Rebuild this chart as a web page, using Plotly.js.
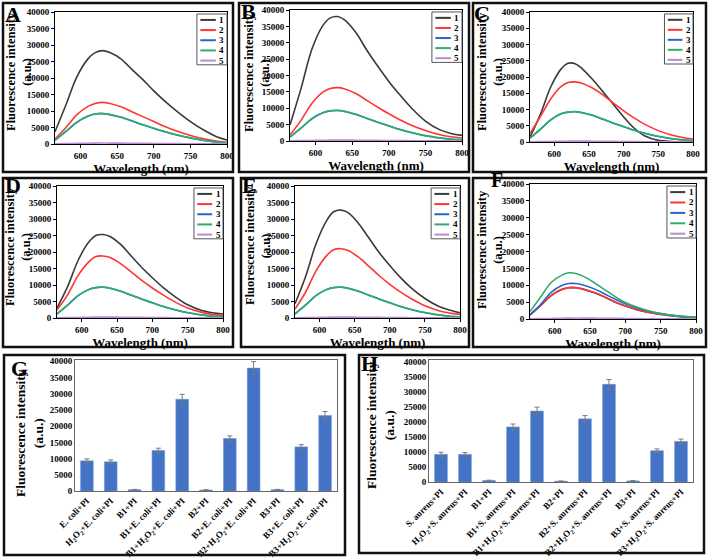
<!DOCTYPE html>
<html><head><meta charset="utf-8">
<script src="https://cdn.plot.ly/plotly-3.0.1.min.js"></script>
<style>html,body{margin:0;padding:0;background:#fff}#chart{width:709px;height:560px}</style>
</head><body><div id="chart"></div>
<script>
// ---------- spectra data (wavelength, nm) ----------
const wavelength = [565,580,595,610,620,630,640,655,670,685,700,715,730,750,770,785,800];
const seriesNames = ['1','2','3','4','5'];

const A1 = [3700,11900,20400,25800,27700,28300,27700,25800,22600,19500,16100,13000,10200,6800,4000,2300,1200];
const A2 = [1500,5000,8900,11400,12300,12600,12300,11300,9800,8300,6800,5300,4000,2600,1500,900,500];
const A3 = [1100,3800,6600,8400,9100,9200,8900,8100,7000,5800,4700,3700,2800,1800,1000,600,300];
const A4 = [1150,3850,6650,8450,9150,9250,8950,8150,7050,5850,4750,3750,2850,1850,1050,650,350];
const A5 = [60,110,180,240,270,290,280,260,230,200,160,130,100,70,50,40,30];

const B1 = [4900,16000,28100,35300,37600,38000,36900,33100,27700,22800,18200,14100,10300,6100,3400,2300,1700];
const B2 = [1800,6300,11500,14900,16000,16300,15900,14500,12400,10300,8300,6500,4900,3200,1900,1300,900];
const B3 = [1200,3900,6800,8600,9200,9300,9000,8100,6900,5700,4600,3500,2600,1600,900,500,300];
const B4 = [1250,3950,6850,8650,9250,9350,9050,8150,6950,5750,4650,3550,2650,1650,950,550,350];
const B5 = [50,100,170,230,260,280,270,250,220,190,150,120,90,60,40,30,20];

const C1 = [1500,8500,17000,22500,24200,24100,22600,19300,15500,11600,7700,4300,1900,500,150,60,20];
const C2 = [2600,7800,13300,17100,18300,18500,18100,16600,14500,12000,9600,7400,5500,3500,2100,1400,900];
const C3 = [1200,3900,6800,8700,9200,9300,9000,8200,7000,5800,4700,3600,2700,1700,1000,600,400];
const C4 = [1250,3950,6850,8750,9250,9350,9050,8250,7050,5850,4750,3650,2750,1750,1050,650,450];
const C5 = [50,100,170,230,260,280,270,250,220,190,150,120,90,60,40,30,20];

const D1 = [3000,9500,17500,23000,25000,25300,24700,22300,18800,15300,12200,9300,6800,4000,2300,1600,1200];
const D2 = [2400,7000,12900,17000,18600,18800,18300,16500,14000,11400,9100,7000,5100,3000,1700,1100,700];
const D3 = [1200,3900,6800,8600,9200,9300,9000,8100,6900,5700,4600,3500,2600,1600,900,500,300];
const D4 = [1250,3950,6850,8650,9250,9350,9050,8150,6950,5750,4650,3550,2650,1650,950,550,350];
const D5 = [50,100,170,230,260,280,270,250,220,190,150,120,90,60,40,30,20];

const E1 = [4300,12500,22500,29500,32200,32700,32000,28800,24300,19800,15900,12300,9200,5900,3500,2400,1600];
const E2 = [2700,7800,14300,18900,20700,21000,20500,18500,15700,12800,10200,7900,5900,3700,2200,1500,1100];
const E3 = [1200,3900,6800,8600,9200,9300,9000,8100,6900,5700,4600,3500,2600,1600,900,500,300];
const E4 = [1250,3950,6850,8650,9250,9350,9050,8150,6950,5750,4650,3550,2650,1650,950,550,350];
const E5 = [50,100,170,230,260,280,270,250,220,190,150,120,90,60,40,30,20];

const F1 = [1150,3950,6950,8750,9250,9250,8850,7850,6550,5050,3850,2850,2050,1350,850,550,350];
const F2 = [1200,4000,7000,8800,9300,9300,8900,7900,6600,5100,3900,2900,2100,1400,900,600,400];
const F3 = [1300,4300,7900,9900,10500,10500,10100,9000,7500,5900,4500,3400,2500,1600,1000,700,500];
const F4 = [2200,6500,10800,13000,13700,13500,12700,10900,8800,6700,4900,3600,2600,1600,1000,700,500];
const F5 = [50,100,170,230,260,280,270,250,220,190,150,120,90,60,40,30,20];

// ---------- bar data ----------
const gCategories = ['E. coli+PI','H<sub>2</sub>O<sub>2</sub>+E. coli+PI','B1+PI','B1+E. coli+PI','B1+H<sub>2</sub>O<sub>2</sub>+E. coli+PI','B2+PI','B2+E. coli+PI','B2+H<sub>2</sub>O<sub>2</sub>+E. coli+PI','B3+PI','B3+E. coli+PI','B3+H<sub>2</sub>O<sub>2</sub>+E. coli+PI'];
const gValues = [9300,9000,400,12500,28300,300,16200,37900,400,13600,23300];
const gErrors = [600,600,100,700,1500,100,800,2000,100,700,1200];

const hCategories = ['S. aureus+PI','H<sub>2</sub>O<sub>2</sub>+S. aureus+PI','B1+PI','B1+S. aureus+PI','B1+H<sub>2</sub>O<sub>2</sub>+S. aureus+PI','B2+PI','B2+S. aureus+PI','B2+H<sub>2</sub>O<sub>2</sub>+S. aureus+PI','B3+PI','B3+S. aureus+PI','B3+H<sub>2</sub>O<sub>2</sub>+S. aureus+PI'];
const hValues = [9200,9200,500,18300,23600,250,21000,32500,350,10400,13500];
const hErrors = [700,600,100,1000,1300,100,1100,1600,100,600,800];

const yTitle = 'Fluorescence intensity<br>(a.u.)';
const yTitleE = 'Fluorescence intensity<br>(a.u)';
const xTitle = 'Wavelength (nm)';

// ---------- styling ----------
const W = 709, H = 560;
const SERIF = '"Liberation Serif", "Times New Roman", serif';
const spectraColors = ['#3a3a3a','#ff3434','#2466cc','#2cae6c','#b88ad6'];
const px = p => p / W;
const py = p => 1 - p / H;

const panels = [
  {label:'A', n:'',  series:[A1,A2,A3,A4,A5], xd:[55,227], yd:[12,144], box:[3,3,233,172], lab:[13,14], yt:[19,72], ytxt:yTitle},
  {label:'B', n:'2', series:[B1,B2,B3,B4,B5], xd:[290,462], yd:[10,141], box:[239,3,469,172], lab:[248,11], yt:[257,73], ytxt:yTitle},
  {label:'C', n:'3', series:[C1,C2,C3,C4,C5], xd:[530,693], yd:[12,142], box:[473,3,706,172], lab:[482,13], yt:[490,72], ytxt:yTitle},
  {label:'D', n:'4', series:[D1,D2,D3,D4,D5], xd:[57,223], yd:[186,318], box:[3,178,233,347], lab:[13,186], yt:[18,247], ytxt:yTitle},
  {label:'E', n:'5', series:[E1,E2,E3,E4,E5], xd:[295,460], yd:[186,318], box:[241,178,469,347], lab:[249,186], yt:[258,246], ytxt:yTitleE},
  {label:'F', n:'6', series:[F1,F2,F3,F4,F5], xd:[530,696], yd:[184,319], box:[473,178,706,347], lab:[497,180], yt:[490,250], ytxt:yTitle}
];

const data = [];
const layout = {
  width: W, height: H,
  margin: {l:0, r:0, t:0, b:0},
  paper_bgcolor: '#fff', plot_bgcolor: '#fff',
  showlegend: false,
  bargap: 0.47,
  font: {family: SERIF, color: '#000'},
  shapes: [], annotations: []
};

const tickFont = {family: SERIF, size: 9, weight: 'bold', color: '#000'};
const titleFont = {family: SERIF, size: 13, weight: 'bold', color: '#000'};

panels.forEach(p => {
  const xk = 'xaxis' + p.n, yk = 'yaxis' + p.n;
  const xr = 'x' + p.n, yr = 'y' + p.n;
  p.series.forEach((s, i) => {
    data.push({type:'scatter', mode:'lines', x: wavelength, y: s, xaxis: xr, yaxis: yr,
      name: seriesNames[i], line: {color: spectraColors[i], width: 1.6, shape: 'spline', smoothing: 1},
      hoverinfo: 'skip'});
  });
  layout[xk] = {domain:[px(p.xd[0]), px(p.xd[1])], anchor: yr, range:[565, 800],
    tickvals:[600,650,700,750,800], ticks:'outside', ticklen:3, tickcolor:'#000',
    tickfont: tickFont, showline:true, mirror:true, linecolor:'#000', linewidth:1,
    showgrid:false, zeroline:false,
    title:{text: xTitle, font: titleFont, standoff: 0}};
  layout[yk] = {domain:[py(p.yd[1]), py(p.yd[0])], anchor: xr, range:[0, 40000],
    dtick:5000, tickformat:'d', ticks:'outside', ticklen:3, tickcolor:'#000',
    tickfont: tickFont, showline:true, mirror:true, linecolor:'#000', linewidth:1,
    showgrid:false, zeroline:false};
  // y title
  layout.annotations.push({xref:'paper', yref:'paper', x: px(p.yt[0]), y: py(p.yt[1]),
    text: p.ytxt, textangle:-90, showarrow:false, xanchor:'center', yanchor:'middle',
    font:{family: SERIF, size: 12.5, weight:'bold', color:'#000'}});
  // panel frame
  layout.shapes.push({type:'rect', xref:'paper', yref:'paper',
    x0: px(p.box[0]), x1: px(p.box[2]), y0: py(p.box[3]), y1: py(p.box[1]),
    line:{color:'#111', width:2.5}});
  layout.annotations.push({xref:'paper', yref:'paper', x: px(p.lab[0]), y: py(p.lab[1]),
    text: p.label, showarrow:false, xanchor:'center', yanchor:'middle',
    font:{family: SERIF, size: p.label === 'F' ? 20 : 22, weight:'bold', color:'#000'}});
  // legend (manual, compact)
  const xd = xr + ' domain', yd = yr + ' domain';
  layout.shapes.push({type:'rect', xref: xd, yref: yd, x0:0.825, x1:1.0, y0:0.6, y1:0.985,
    line:{color:'#555', width:1}, fillcolor:'#fff', layer:'above'});
  seriesNames.forEach((nm, i) => {
    const yy = 0.94 - i * 0.077;
    layout.shapes.push({type:'line', xref: xd, yref: yd, x0:0.845, x1:0.935, y0: yy, y1: yy,
      line:{color: spectraColors[i], width:2}, layer:'above'});
    layout.annotations.push({xref: xd, yref: yd, x:0.97, y: yy, text: nm, showarrow:false,
      xanchor:'center', yanchor:'middle', font:{family: SERIF, size: 9, weight:'bold', color:'#000'}});
  });
});

// ---------- bar panels ----------
const barPanels = [
  {label:'G', n:'7', cats:gCategories, vals:gValues, errs:gErrors, xd:[75,337], yd:[360,491], top:40400, box:[4,355,345,555], lab:[19,368], yt:[29,433]},
  {label:'H', n:'8', cats:hCategories, vals:hValues, errs:hErrors, xd:[429,693], yd:[360,482], top:40600, box:[359,355,704,553], lab:[369,363], yt:[380,425]}
];
barPanels.forEach(p => {
  const xr = 'x' + p.n, yr = 'y' + p.n;
  data.push({type:'bar', x: p.cats, y: p.vals, xaxis: xr, yaxis: yr,
    marker:{color:'#4472c4', line:{color:'#6d92d8', width:0.6}},
    error_y:{type:'data', array: p.errs, visible:true, color:'#7a7a7a', thickness:1, width:2.5},
    hoverinfo:'skip'});
  layout['xaxis' + p.n] = {domain:[px(p.xd[0]), px(p.xd[1])], anchor: yr, type:'category',
    tickangle:-45, ticks:'', tickfont:{family: SERIF, size: 9, weight:'bold', color:'#000'},
    showline:true, mirror:true, linecolor:'#666', linewidth:1, showgrid:false, zeroline:false};
  layout['yaxis' + p.n] = {domain:[py(p.yd[1]), py(p.yd[0])], anchor: xr, range:[0, p.top],
    dtick:5000, tickformat:'d', ticks:'', tickfont: tickFont, showline:true, mirror:true, linecolor:'#666', linewidth:1,
    showgrid:false, zeroline:false};
  layout.annotations.push({xref:'paper', yref:'paper', x: px(p.yt[0]), y: py(p.yt[1]),
    text: yTitle, textangle:-90, showarrow:false, xanchor:'center', yanchor:'middle',
    font:{family: SERIF, size: 13.5, weight:'bold', color:'#000'}});
  layout.shapes.push({type:'rect', xref:'paper', yref:'paper',
    x0: px(p.box[0]), x1: px(p.box[2]), y0: py(p.box[3]), y1: py(p.box[1]),
    line:{color:'#111', width:2.5}});
  layout.annotations.push({xref:'paper', yref:'paper', x: px(p.lab[0]), y: py(p.lab[1]),
    text: p.label, showarrow:false, xanchor:'center', yanchor:'middle',
    font:{family: SERIF, size: 22, weight:'bold', color:'#000'}});
});

Plotly.newPlot('chart', data, layout, {staticPlot:true, displayModeBar:false});
</script></body></html>
